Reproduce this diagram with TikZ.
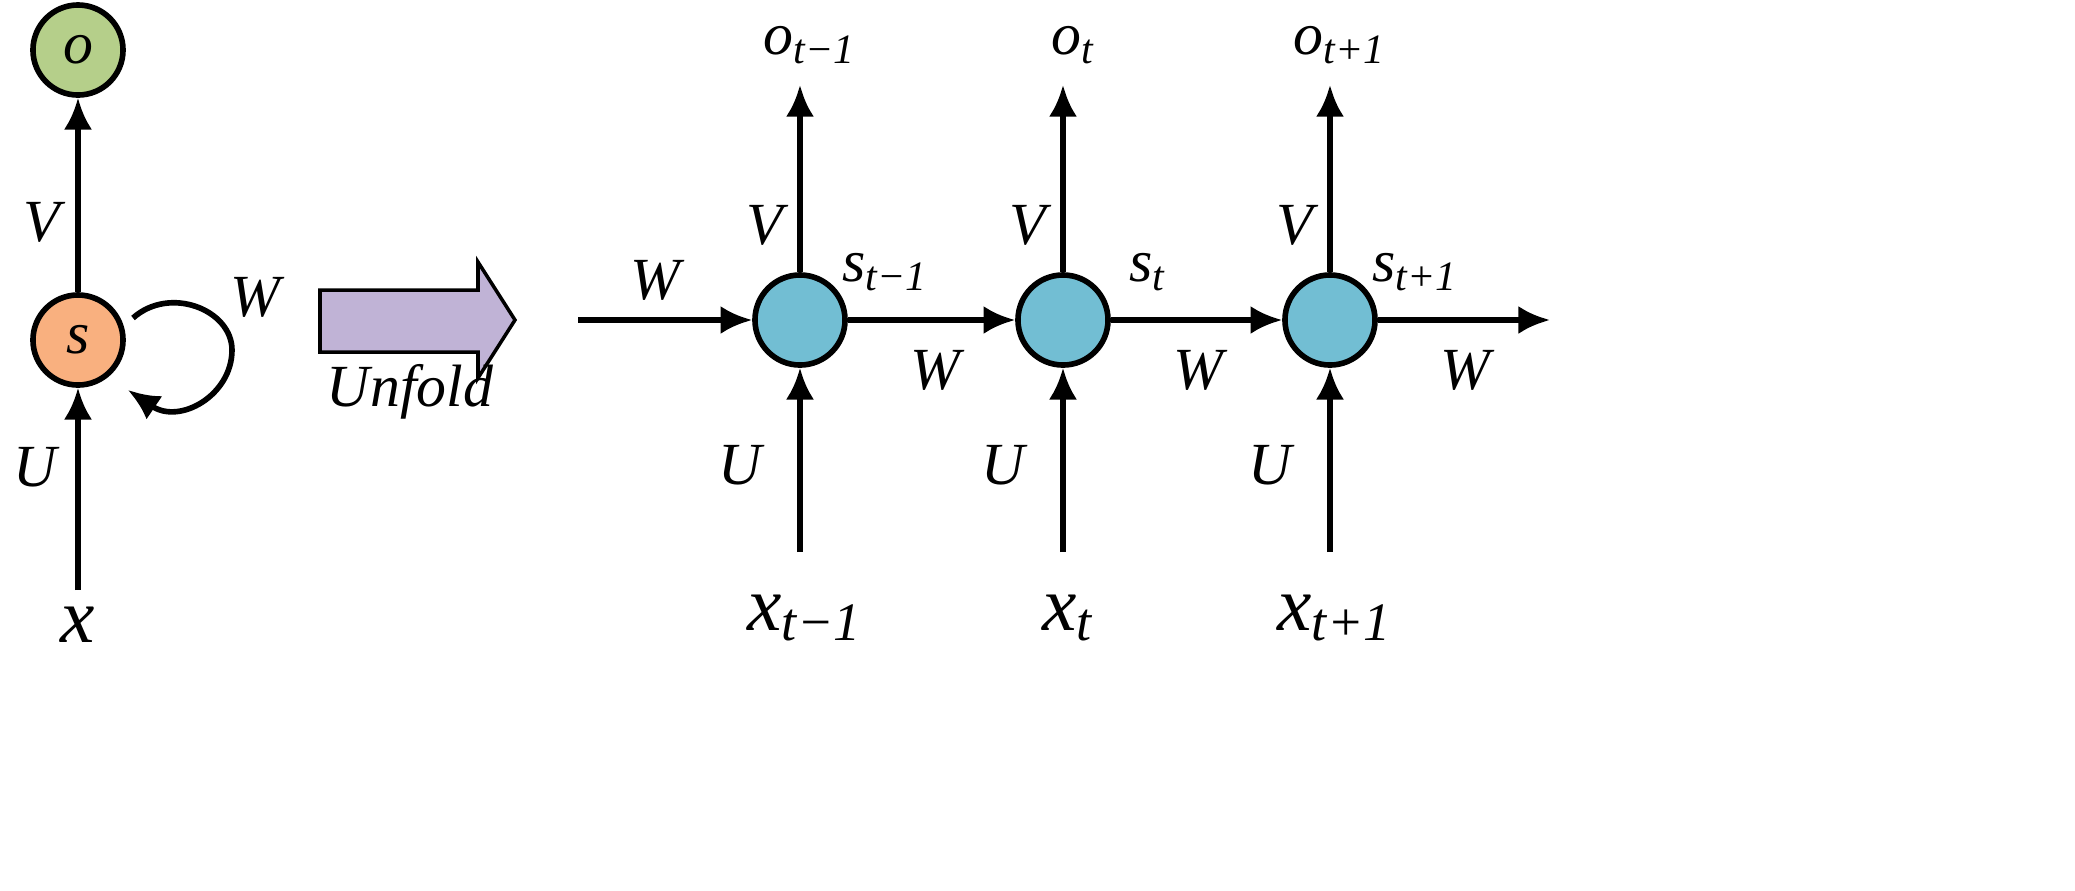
\documentclass[tikz,border=0pt]{standalone}
\usepackage{fontspec}
\setmainfont{Liberation Serif}
\usetikzlibrary{arrows.meta}
\definecolor{og}{HTML}{B5CF8A}
\definecolor{so}{HTML}{F9B07F}
\definecolor{cb}{HTML}{72BED3}
\definecolor{pu}{HTML}{C0B3D6}
\newcommand{\lb}[2]{\textit{#1}\textsubscript{\textit{#2}}}
\begin{document}
\begin{tikzpicture}[x=0.01cm,y=-0.01cm,
  cir/.style={circle,draw,line width=1.6pt,minimum size=0.9cm,inner sep=0pt},
  ar/.style={line width=1.6pt,-{Latex[length=9pt,width=8pt]}},
  lab/.style={font=\fontsize{17}{17}\selectfont\itshape,inner sep=0pt},
  big/.style={font=\fontsize{22}{22}\selectfont\itshape,inner sep=0pt}]
\useasboundingbox (0,0) rectangle (2075,890);
% left
\node[cir,fill=og] (o) at (78,50) {\fontsize{17}{17}\selectfont\itshape o};
\node[cir,fill=so] (s) at (78,340) {\fontsize{17}{17}\selectfont\itshape s};
\coordinate (x0) at (78,590);
\node[big] (xl) at (78,625) {x};
\draw[ar] (s) -- (o);
\draw[ar] (x0) -- (s);
\node[lab] (V0) at (42,222) {V};
\node[lab] (U0) at (35,467) {U};
\node[lab] (W0) at (255,297) {W};
\coordinate (ls) at (133,318);
\coordinate (le) at (128,390);
\draw[ar] (ls) .. controls (170,285) and (232,310) .. (232,350)
  .. controls (232,395) and (180,425) .. (le);
% unfold arrow
\draw[fill=pu,line width=1pt] (320,290) -- (478,290) -- (478,262) -- (515,320)
  -- (478,378) -- (478,352) -- (320,352) -- cycle;
\node[lab] (uf) at (410,392) {Unfold};
% right
\coordinate (in) at (578,320);
\coordinate (out) at (1550,320);
\foreach \n/\cx/\sub in {a/800/t−1,b/1063/t,c/1330/t+1}{
  \node[cir,fill=cb] (\n) at (\cx,320) {};
  \coordinate (\n o) at (\cx,85);
  \coordinate (\n x) at (\cx,552);
  \draw[ar] (\n) -- (\n o);
  \draw[ar] (\n x) -- (\n);
  \node[lab] (\n ol) at (\cx+10,45) {\lb{o}{\sub}};
  \node[big] (\n xl) at (\cx+5,618) {\lb{x}{\sub}};
  \node[lab] (\n V) at (\cx-35,225) {V};
  \node[lab] (\n U) at (\cx-60,465) {U};
  \node[lab] (\n s) at (\cx+85,272) {\lb{s}{\sub}};
  \node[lab] (\n W) at (\cx+135,370) {W};
}
\node[lab] (Wi) at (655,280) {W};
\draw[ar] (in) -- (a);
\draw[ar] (a) -- (b);
\draw[ar] (b) -- (c);
\draw[ar] (c) -- (out);
\end{tikzpicture}
\end{document}
